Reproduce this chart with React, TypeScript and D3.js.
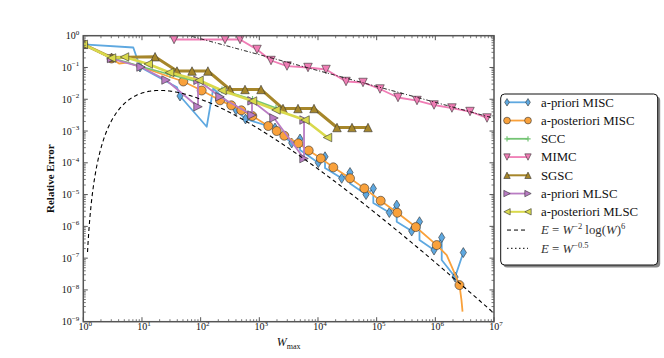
import React from 'react';
import * as d3 from 'd3';

// ---------- data ----------
const W_BLUE = [1, 7.11, 9.25, 39.5, 44.5, 127, 164, 401, 582, 1850, 3565, 4940, 4940, 10120, 13180, 13180, 25360, 35150, 35150, 65900, 87700, 87700, 164400, 219800, 219800, 395600, 537000, 537000, 950000, 1.285e6, 1.285e6, 2.17e6, 3.0e6];
const E_BLUE = [0.536, 0.425, 0.1035, 0.02376, 0.01265, 0.001367, 0.0218, 0.00459, 0.00239, 0.001244, 0.00042, 0.000561, 0.000252, 1.007e-4, 1.55e-4, 6.85e-5, 3.25e-5, 4.94e-5, 2.23e-5, 1.004e-5, 1.55e-5, 5.42e-6, 2.72e-6, 4.69e-6, 1.4e-6, 7.13e-7, 1.4e-6, 3.71e-7, 1.8e-7, 4.45e-7, 8.71e-8, 2.54e-8, 1.5e-7];
const M_BLUE = [1, 0, 1, 0, 1, 0, 0, 1, 1, 1, 1, 1, 0, 1, 1, 0, 1, 1, 0, 1, 1, 0, 1, 1, 0, 1, 1, 0, 1, 1, 0, 1, 1];

const W_ORANGE = [1, 3.03, 4.06, 5.56, 13.7, 50.6, 104.2, 214, 333, 493, 760, 1423, 1978, 2667, 4620, 6950, 11170, 18240, 35150, 61640, 117200, 224900, 464900, 1.056e6, 1.563e6, 2.02e6, 2.58e6, 2.79e6, 2.91e6];
const E_ORANGE = [0.536, 0.1915, 0.1334, 0.1433, 0.0832, 0.0362, 0.01884, 0.00926, 0.00645, 0.00449, 0.00297, 0.00144, 0.001, 0.000712, 0.00041, 0.000244, 0.000138, 7.21e-5, 3.25e-5, 1.57e-5, 6.4e-6, 2.68e-6, 9.52e-7, 2.58e-7, 1.25e-7, 4.22e-8, 1.42e-8, 4.8e-9, 2.08e-9];
const M_ORANGE = [1, 1, 0, 0, 0, 1, 1, 1, 1, 1, 1, 1, 1, 1, 1, 1, 1, 1, 1, 1, 1, 1, 1, 1, 0, 0, 1, 0, 0];

const W_SCC = [1, 3.03, 9.63, 30.1, 93.8, 231, 766, 1926];
const E_SCC = [0.536, 0.199, 0.1073, 0.0601, 0.0349, 0.01954, 0.00982, 0.0053];

const W_MIMC = [35.2, 260, 469, 914, 1582, 2965, 6761, 13700, 30060, 58480, 114000, 231000, 487000, 950000, 1.92e6, 3.9e6, 7.6e6];
const E_MIMC = [0.759, 0.759, 0.759, 0.368, 0.1656, 0.111, 0.0998, 0.0863, 0.0362, 0.0337, 0.021, 0.01135, 0.00912, 0.00659, 0.0053, 0.00411, 0.00257];

const W_SGSC = [1, 3.03, 16.7, 39.5, 71.3, 133, 316, 570, 1069, 2535, 4563, 8551, 21090, 38000, 71230];
const E_SGSC = [0.536, 0.206, 0.218, 0.0774, 0.0774, 0.0774, 0.0203, 0.0203, 0.0203, 0.00511, 0.00511, 0.00511, 0.00129, 0.00129, 0.00129];

const W_PRI_MLSC = [1, 3.03, 9.63, 25.7, 90.2, 90.2, 214, 750, 750, 1778, 5780, 5780];
const E_PRI_MLSC = [0.536, 0.1915, 0.1035, 0.0403, 0.00582, 0.0395, 0.012, 0.00319, 0.00893, 0.00257, 0.000136, 0.00222];

const W_POST_MLSC = [1, 3.03, 5.04, 12.8, 29.5, 93.8, 231, 766, 1926, 6010, 14530];
const E_POST_MLSC = [0.536, 0.199, 0.214, 0.1286, 0.0695, 0.0395, 0.01884, 0.00881, 0.00459, 0.00222, 0.000625];

const REF_RATE_C = 0.0105; // E = c W^-2 log(W)^6
const REF_SQRT_C = 8; // E = c W^-0.5

const X_EXPS = [0, 1, 2, 3, 4, 5, 6, 7];
const Y_EXPS = [0, -1, -2, -3, -4, -5, -6, -7, -8, -9];

const LEGEND_LABELS = ['a-priori MISC', 'a-posteriori MISC', 'SCC', 'MIMC', 'SGSC', 'a-priori MLSC', 'a-posteriori MLSC'];

// ---------- layout ----------
const WIDTH = 664;
const HEIGHT = 358;
const L = 83.3, R = 494, T = 35.7, B = 321.7;
const FONT = "'Liberation Serif', 'DejaVu Serif', serif";

const x = d3.scaleLog().domain([1, 1e7]).range([L, R]);
const y = d3.scaleLog().domain([1e-9, 1]).range([B, T]);

type Shape = 'diamond' | 'circle' | 'plus' | 'tdown' | 'tup' | 'tright' | 'tleft';

function markerPath(shape: Shape, cx: number, cy: number, s: number): string {
  const h = s / 2;
  switch (shape) {
    case 'diamond': {
      const w = h * 0.62;
      return `M${cx},${cy - h}L${cx + w},${cy}L${cx},${cy + h}L${cx - w},${cy}Z`;
    }
    case 'tdown':
      return `M${cx - h},${cy - h}L${cx + h},${cy - h}L${cx},${cy + h}Z`;
    case 'tup':
      return `M${cx - h},${cy + h}L${cx + h},${cy + h}L${cx},${cy - h}Z`;
    case 'tright':
      return `M${cx - h},${cy - h}L${cx - h},${cy + h}L${cx + h},${cy}Z`;
    case 'tleft':
      return `M${cx + h},${cy - h}L${cx + h},${cy + h}L${cx - h},${cy}Z`;
    case 'plus':
      return `M${cx - h},${cy}L${cx + h},${cy}M${cx},${cy - h}L${cx},${cy + h}`;
    default:
      return '';
  }
}

interface Series {
  W: number[];
  E: number[];
  mask?: number[];
  color: string;
  lw: number;
  shape: Shape;
  size: number;
}

const SERIES: Series[] = [
  { W: W_BLUE, E: E_BLUE, mask: M_BLUE, color: '#5ea8e0', lw: 1.8, shape: 'diamond', size: 10 },
  { W: W_ORANGE, E: E_ORANGE, mask: M_ORANGE, color: '#f9a13b', lw: 1.8, shape: 'circle', size: 9 },
  { W: W_SCC, E: E_SCC, color: '#74c474', lw: 1.8, shape: 'plus', size: 7 },
  { W: W_MIMC, E: E_MIMC, color: '#f07db5', lw: 1.8, shape: 'tdown', size: 8.5 },
  { W: W_SGSC, E: E_SGSC, color: '#a6862a', lw: 3, shape: 'tup', size: 8.5 },
  { W: W_PRI_MLSC, E: E_PRI_MLSC, color: '#b97cc3', lw: 1.8, shape: 'tright', size: 8.5 },
  { W: W_POST_MLSC, E: E_POST_MLSC, color: '#d9d94c', lw: 2.6, shape: 'tleft', size: 8.5 },
];

function Marker({ shape, cx, cy, size, color }: { shape: Shape; cx: number; cy: number; size: number; color: string }) {
  if (shape === 'circle') {
    return <circle cx={cx} cy={cy} r={size / 2} fill={color} stroke="#333" strokeWidth={0.6} />;
  }
  if (shape === 'plus') {
    return <path d={markerPath(shape, cx, cy, size)} stroke={color} strokeWidth={1.2} fill="none" />;
  }
  return <path d={markerPath(shape, cx, cy, size)} fill={color} stroke="#333" strokeWidth={0.6} strokeLinejoin="miter" />;
}

function Pow10({ e, px, py, anchor, size }: { e: number; px: number; py: number; anchor: 'middle' | 'end'; size: number }) {
  const s = e < 0 ? `\u2212${-e}` : `${e}`;
  return (
    <text x={px} y={py} textAnchor={anchor} fontFamily={FONT} fontSize={size} fill="#111">
      10<tspan dy={-size * 0.45} fontSize={size * 0.7}>{s}</tspan>
    </text>
  );
}

export default function App() {
  const line = d3
    .line<[number, number]>()
    .x((d) => x(d[0]))
    .y((d) => y(d[1]));

  const refW = d3.range(0.072, 7.0001, 0.01).map((p) => Math.pow(10, p));
  const rateLine = line(refW.map((w) => [w, (REF_RATE_C * Math.pow(Math.log(w), 6)) / (w * w)] as [number, number]));
  const sqrtLine = line(refW.map((w) => [w, REF_SQRT_C / Math.sqrt(w)] as [number, number]));

  const minorX: number[] = [];
  for (let e = 0; e < 7; e++) for (let m = 2; m <= 9; m++) minorX.push(m * Math.pow(10, e));
  const minorY: number[] = [];
  for (let e = -9; e < 0; e++) for (let m = 2; m <= 9; m++) minorY.push(m * Math.pow(10, e));

  const axisColor = '#555';
  const legX = 500.7, legY = 94, legW = 157, legH = 171;
  const rowY = (i: number) => 102.3 + i * 18.25;
  const LEG_FS = 12.8;

  return (
    <svg width={WIDTH} height={HEIGHT} style={{ position: 'fixed', left: 0, top: 0, background: '#fff' }}>
      <defs>
        <clipPath id="plotclip">
          <rect x={L} y={T} width={R - L} height={B - T} />
        </clipPath>
      </defs>
      <rect x={0} y={0} width={WIDTH} height={HEIGHT} fill="#fff" />

      <g clipPath="url(#plotclip)">
        {SERIES.map((s, si) => {
          const pts = s.W.map((w, i) => [w, s.E[i]] as [number, number]);
          return (
            <g key={si}>
              <path d={line(pts) || ''} fill="none" stroke={s.color} strokeWidth={s.lw} strokeLinejoin="round" />
              {pts.map((p, i) =>
                s.mask && !s.mask[i] ? null : (
                  <Marker key={i} shape={s.shape} cx={x(p[0])} cy={y(p[1])} size={s.size} color={s.color} />
                )
              )}
            </g>
          );
        })}
        <path d={rateLine || ''} fill="none" stroke="#000" strokeWidth={1.1} strokeDasharray="4,3" />
        <path d={sqrtLine || ''} fill="none" stroke="#000" strokeWidth={1} strokeDasharray="4,2,1,2" />
      </g>

      {/* ticks */}
      <g stroke={axisColor}>
        {X_EXPS.map((e) => (
          <g key={'xm' + e}>
            <line x1={x(Math.pow(10, e))} x2={x(Math.pow(10, e))} y1={B} y2={B - 4.5} strokeWidth={1} />
            <line x1={x(Math.pow(10, e))} x2={x(Math.pow(10, e))} y1={T} y2={T + 4.5} strokeWidth={1} />
          </g>
        ))}
        {minorX.map((v, i) => (
          <g key={'xn' + i}>
            <line x1={x(v)} x2={x(v)} y1={B} y2={B - 2.5} strokeWidth={0.8} />
            <line x1={x(v)} x2={x(v)} y1={T} y2={T + 2.5} strokeWidth={0.8} />
          </g>
        ))}
        {Y_EXPS.map((e) => (
          <g key={'ym' + e}>
            <line x1={L} x2={L + 4.5} y1={y(Math.pow(10, e))} y2={y(Math.pow(10, e))} strokeWidth={1} />
            <line x1={R} x2={R - 4.5} y1={y(Math.pow(10, e))} y2={y(Math.pow(10, e))} strokeWidth={1} />
          </g>
        ))}
        {minorY.map((v, i) => (
          <g key={'yn' + i}>
            <line x1={L} x2={L + 2.5} y1={y(v)} y2={y(v)} strokeWidth={0.8} />
            <line x1={R} x2={R - 2.5} y1={y(v)} y2={y(v)} strokeWidth={0.8} />
          </g>
        ))}
      </g>
      <rect x={L} y={T} width={R - L} height={B - T} fill="none" stroke={axisColor} strokeWidth={1.5} />

      {/* tick labels */}
      {X_EXPS.map((e) => (
        <Pow10 key={'xl' + e} e={e} px={x(Math.pow(10, e)) + 2} py={B + 8.5} anchor="middle" size={10} />
      ))}
      {Y_EXPS.map((e) => (
        <Pow10 key={'yl' + e} e={e} px={L - 4} py={y(Math.pow(10, e)) + 3.5} anchor="end" size={10} />
      ))}

      {/* axis labels */}
      <text
        transform={`translate(54,${(T + B) / 2}) rotate(-90)`}
        textAnchor="middle"
        fontFamily={FONT}
        fontSize={11}
        fontWeight="bold"
        fill="#111"
      >
        Relative Error
      </text>
      <text x={(L + R) / 2} y={346} textAnchor="middle" fontFamily={FONT} fontSize={12} fill="#111">
        <tspan fontStyle="italic">W</tspan>
        <tspan fontSize={8} dy={2.5}>max</tspan>
      </text>

      {/* legend */}
      <rect x={legX + 2.5} y={legY + 2.5} width={legW} height={legH} rx={4} fill="#888" />
      <rect x={legX} y={legY} width={legW} height={legH} rx={4} fill="#fff" stroke="#111" strokeWidth={1} />
      {SERIES.map((s, i) => {
        const yy = rowY(i);
        return (
          <g key={'lg' + i}>
            <line x1={507} x2={528} y1={yy} y2={yy} stroke={s.color} strokeWidth={Math.min(s.lw, 2)} />
            <Marker shape={s.shape} cx={507} cy={yy} size={s.size * 0.75} color={s.color} />
            <Marker shape={s.shape} cx={528} cy={yy} size={s.size * 0.75} color={s.color} />
            <text x={541} y={yy + 4.3} fontFamily={FONT} fontSize={LEG_FS} fill="#111">
              {LEGEND_LABELS[i]}
            </text>
          </g>
        );
      })}
      <line x1={507} x2={528} y1={rowY(7)} y2={rowY(7)} stroke="#000" strokeWidth={1} strokeDasharray="4,3" />
      <text x={541} y={rowY(7) + 4.3} fontFamily={FONT} fontSize={LEG_FS} fill="#333">
        <tspan fontStyle="italic">E</tspan> = <tspan fontStyle="italic">W</tspan>
        <tspan dy={-5} fontSize={8.5}>{'\u22122'}</tspan>
        <tspan dy={5}> log(</tspan>
        <tspan fontStyle="italic">W</tspan>)<tspan dy={-5} fontSize={8.5}>6</tspan>
      </text>
      <line x1={507} x2={528} y1={rowY(8)} y2={rowY(8)} stroke="#000" strokeWidth={1} strokeDasharray="1.5,2.5" />
      <text x={541} y={rowY(8) + 4.3} fontFamily={FONT} fontSize={LEG_FS} fill="#333">
        <tspan fontStyle="italic">E</tspan> = <tspan fontStyle="italic">W</tspan>
        <tspan dy={-5} fontSize={8.5}>{'\u22120.5'}</tspan>
      </text>
    </svg>
  );
}
